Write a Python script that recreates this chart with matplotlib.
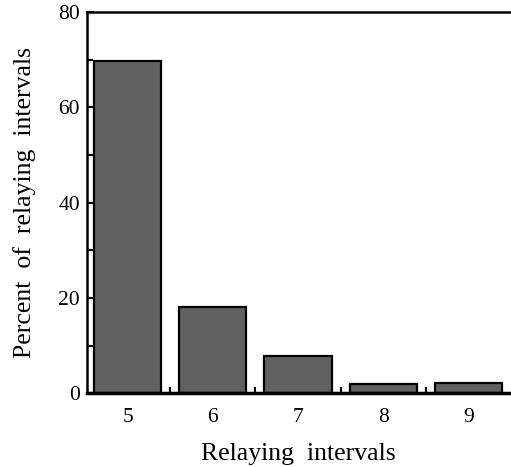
import matplotlib
matplotlib.use("Agg")
import matplotlib.pyplot as plt
from matplotlib.ticker import MultipleLocator

# data
intervals = [5, 6, 7, 8, 9]
percent = [69.7, 18.1, 7.8, 1.9, 2.1]
tick_labels = ["5", "6", "7", "8", "9"]

plt.rcParams["font.family"] = ["Liberation Serif", "DejaVu Serif"]

fig = plt.figure(figsize=(5.11, 4.67), dpi=100)
ax = fig.add_axes([0.170, 0.158, 0.828, 0.816])

ax.bar(intervals, percent, width=0.79, color="#616161",
       edgecolor="black", linewidth=1.6)

ax.set_xlim(4.52, 9.49)
ax.set_ylim(0, 80)
ax.set_xticks(intervals)
ax.set_xticklabels(tick_labels)
ax.set_xticks([5.5, 6.5, 7.5, 8.5], minor=True)
ax.yaxis.set_major_locator(MultipleLocator(20))
ax.yaxis.set_minor_locator(MultipleLocator(10))

ax.tick_params(axis="both", which="both", direction="in", labelsize=15.5,
               width=1.5)
ax.tick_params(axis="y", which="major", length=5, pad=5)
ax.tick_params(axis="y", which="minor", length=4)
ax.tick_params(axis="x", which="major", length=0, pad=11)
ax.tick_params(axis="x", which="minor", length=4)

ax.spines["right"].set_visible(False)
for s in ["left", "top"]:
    ax.spines[s].set_linewidth(1.8)
ax.spines["bottom"].set_linewidth(2.5)

ax.set_xlabel("Relaying  intervals", fontsize=18.5, labelpad=11)
ax.set_ylabel("Percent  of  relaying  intervals", fontsize=18.5, labelpad=16)

fig.savefig("out.png", dpi=100)
